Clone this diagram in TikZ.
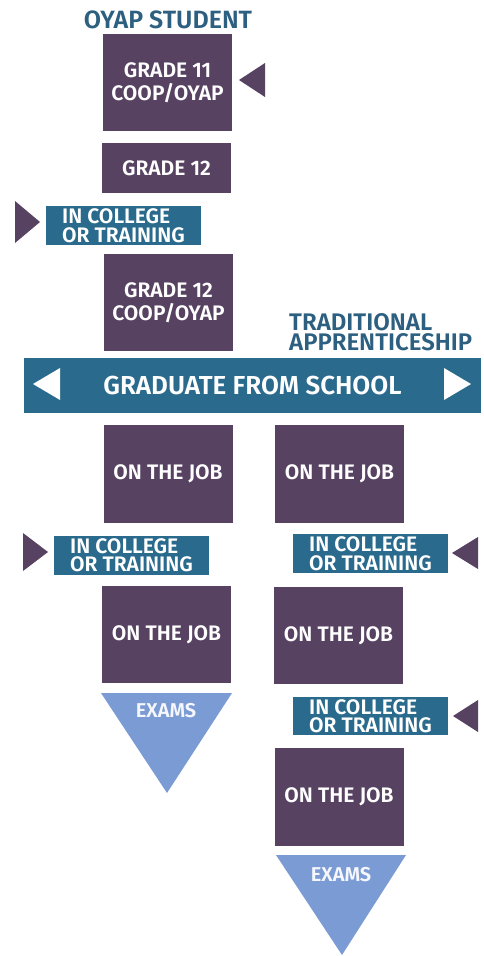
\documentclass[tikz,border=0pt]{standalone}
\usepackage{fontspec}
\setmainfont{Fira Sans}[BoldFont={* SemiBold}]
\definecolor{plum}{HTML}{574262}
\definecolor{petrol}{HTML}{2A6A8C}
\definecolor{skyblue}{HTML}{7B9BD5}
\definecolor{headblue}{HTML}{2D5F80}
\begin{document}
\begin{tikzpicture}[x=1pt,y=-1pt,
    jobbox/.style={fill=plum, text=white, minimum width=129pt, inner sep=0pt, align=center,
      font=\bfseries\fontsize{21}{23}\selectfont},
    collegebox/.style={fill=petrol, text=white, minimum width=155pt, minimum height=39pt, inner sep=0pt,
      align=left, font=\bfseries\fontsize{21}{18.5}\selectfont},
    heading/.style={text=headblue, inner sep=0pt, align=left, font=\bfseries\fontsize{24}{20}\selectfont},
    marker/.style={fill=plum},
    examfill/.style={fill=skyblue},
    examtext/.style={text=white!92!skyblue, font=\bfseries\fontsize{20}{20}\selectfont}]
        \useasboundingbox (0,0) rectangle (483,956);
        % oyap student column
        \node[heading, font=\bfseries\fontsize{25}{26}\selectfont] (t1) at (168,20) {OYAP STUDENT};
        \node[jobbox, minimum height=97pt] (g11) at (167.5,82.5) {GRADE 11\\COOP/OYAP};
        \node[jobbox, minimum height=50pt] (g12) at (166.5,168) {GRADE 12};
        \node[collegebox] (c1) at (123.5,225.5) {IN COLLEGE\\OR TRAINING};
        \node[jobbox, minimum height=97pt] (g12c) at (168.5,302.5) {GRADE 12\\COOP/OYAP};
        \node[heading, anchor=west] (t2) at (289,332) {TRADITIONAL\\APPRENTICESHIP};
        % graduate band
        \node[fill=petrol, text=white, minimum width=457pt, minimum height=55pt, inner sep=0pt,
          font=\bfseries\fontsize{26}{28}\selectfont] (grad) at (252.5,385.5) {GRADUATE FROM SCHOOL};
        \fill[white] (33,384) -- (60,368) -- (60,400) -- cycle;
        \fill[white] (471,384) -- (444,368) -- (444,400) -- cycle;
        % after school
        \node[jobbox, minimum height=98pt] (j1) at (168,474) {ON THE JOB};
        \node[jobbox, minimum height=98pt] (j2) at (339.5,474) {ON THE JOB};
        \node[collegebox] (c2) at (131.5,555) {IN COLLEGE\\OR TRAINING};
        \node[collegebox] (c3) at (370.5,553.5) {IN COLLEGE\\OR TRAINING};
        \node[jobbox, minimum height=97pt] (j3) at (166.5,634.5) {ON THE JOB};
        \node[jobbox, minimum height=97pt] (j4) at (338.5,635.5) {ON THE JOB};
        \node[collegebox, minimum height=38pt] (c4) at (370.5,716) {IN COLLEGE\\OR TRAINING};
        \node[jobbox, minimum height=98pt] (j5) at (339,797) {ON THE JOB};
        % exams
        \fill[examfill] (101,693) -- (232,693) -- (167,793) -- cycle;
        \node[examtext] (e1) at (166,711) {EXAMS};
        \fill[examfill] (276,855) -- (406,855) -- (342,955) -- cycle;
        \node[examtext] (e2) at (341,875) {EXAMS};
        % markers
        \fill[marker] (239,80) -- (265,63) -- (265,97) -- cycle;
        \fill[marker] (40,222) -- (15,201) -- (15,243) -- cycle;
        \fill[marker] (48,552) -- (23,533) -- (23,571) -- cycle;
        \fill[marker] (452,553) -- (478,537) -- (478,569) -- cycle;
        \fill[marker] (453,716) -- (478,700) -- (478,732) -- cycle;
    \end{tikzpicture}
\end{document}
